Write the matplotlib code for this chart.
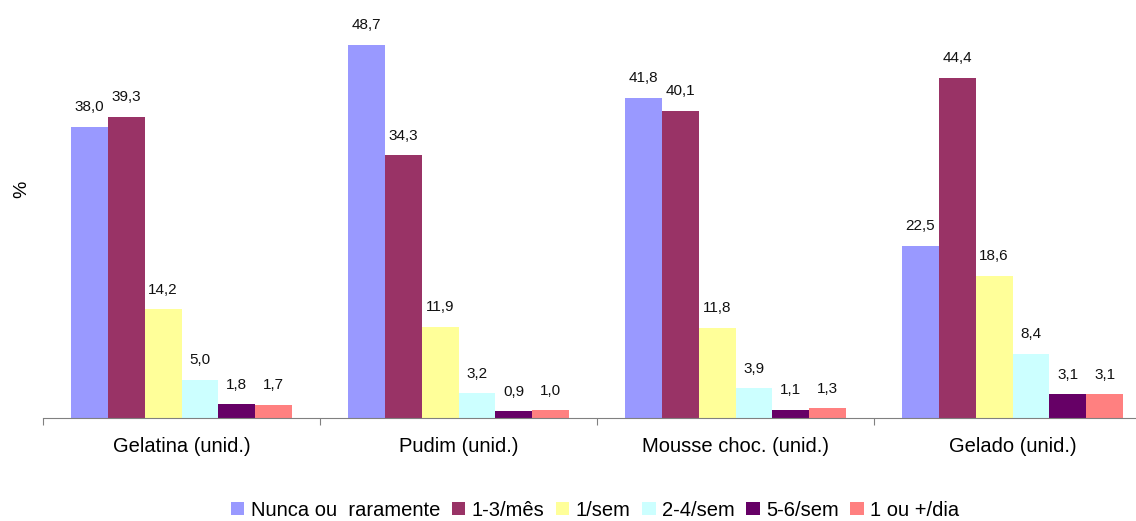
import numpy as np
import matplotlib.pyplot as plt

categories = ["Gelatina (unid.)", "Pudim (unid.)", "Mousse choc. (unid.)", "Gelado (unid.)"]
series_names = ["Nunca ou  raramente", "1-3/mês", "1/sem", "2-4/sem", "5-6/sem", "1 ou +/dia"]
nunca = [38.0, 48.7, 41.8, 22.5]
mes_1_3 = [39.3, 34.3, 40.1, 44.4]
sem_1 = [14.2, 11.9, 11.8, 18.6]
sem_2_4 = [5.0, 3.2, 3.9, 8.4]
sem_5_6 = [1.8, 0.9, 1.1, 3.1]
dia_1 = [1.7, 1.0, 1.3, 3.1]
colors = ["#9999FF", "#993366", "#FFFF99", "#CCFFFF", "#660066", "#FF8080"]


def main():
    all_series = [nunca, mes_1_3, sem_1, sem_2_4, sem_5_6, dia_1]
    W, H = 1136, 521
    fig = plt.figure(figsize=(W / 100, H / 100), dpi=100)
    # axes: left edge at x=43px, baseline at y=418px, runs off the right edge
    ax = fig.add_axes([43 / W, (H - 418) / H, (W - 43) / W, 383 / H])

    x = np.arange(len(categories))
    bw = 0.8 / len(all_series)
    font = "Liberation Sans"

    for i, (vals, col, name) in enumerate(zip(all_series, colors, series_names)):
        pos = x - 0.4 + bw * (i + 0.5)
        bars = ax.bar(pos, vals, width=bw, color=col, label=name, linewidth=0)
        for b, v in zip(bars, vals):
            ax.annotate(f"{v:.1f}".replace(".", ","),
                        (b.get_x() + b.get_width() / 2, b.get_height()),
                        xytext=(0, 9), textcoords="offset points",
                        ha="center", va="bottom", fontsize=11, family=font,
                        color="#111111")

    ax.set_ylim(0, 50)
    ax.set_xlim(-0.5, 3.5 - 15 / 277)

    for s in ["top", "right", "left"]:
        ax.spines[s].set_visible(False)
    ax.spines["bottom"].set_color("#808080")
    ax.set_yticks([])

    # boundaries as major ticks, names on minor ticks at the centers
    ax.set_xticks(np.arange(-0.5, 3.5, 1.0))
    ax.set_xticklabels([])
    ax.tick_params(axis="x", which="major", direction="out", length=5,
                   color="#808080")
    ax.set_xticks(x, minor=True)
    ax.set_xticklabels(categories, minor=True, fontsize=14.5, family=font)
    ax.tick_params(axis="x", which="minor", length=0, pad=14)

    fig.text(22 / W, 1 - 189 / H, "%", rotation=90, ha="center", va="center",
             fontsize=14, family=font)

    fig.legend(loc="center", bbox_to_anchor=(595 / W, 1 - 510 / H), ncol=6,
               frameon=False, handlelength=0.68, handleheight=0.68,
               handletextpad=0.3, columnspacing=0.58,
               prop={"family": font, "size": 14.5})

    fig.savefig("out.png", dpi=100)


if __name__ == "__main__":
    main()
